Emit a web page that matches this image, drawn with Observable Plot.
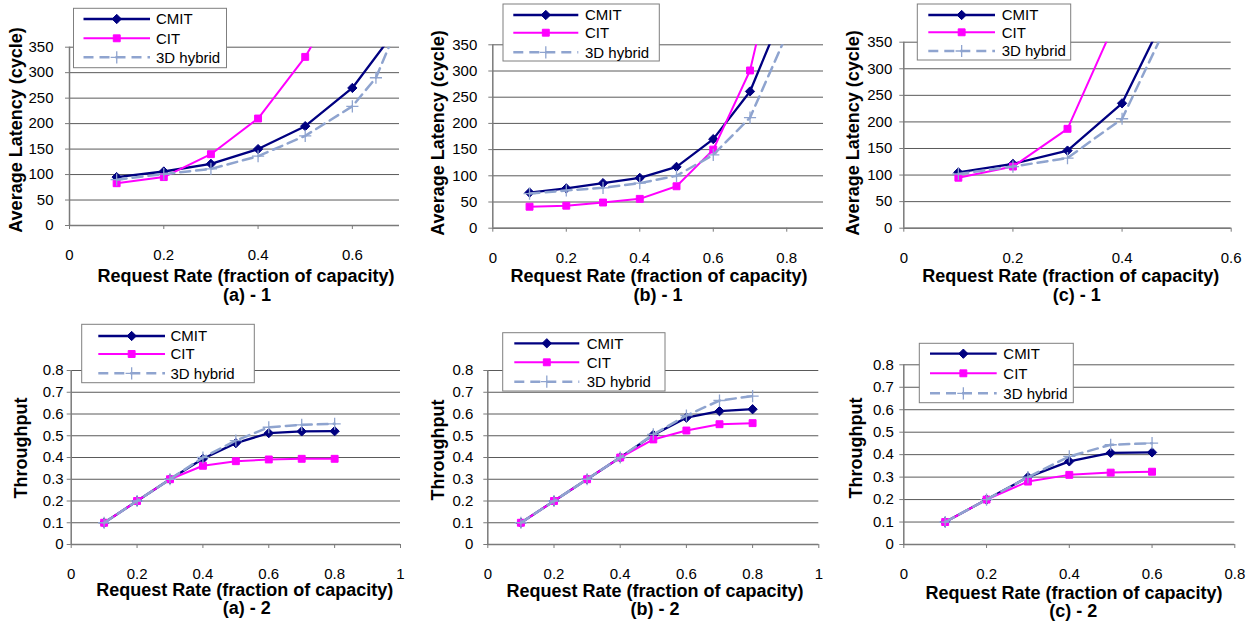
<!DOCTYPE html>
<html><head><meta charset="utf-8">
<script src="https://cdn.jsdelivr.net/npm/d3@7"></script>
<script src="https://cdn.jsdelivr.net/npm/@observablehq/plot@0.6"></script>
<style>
html,body{margin:0;padding:0;background:#fff;}
#chart{position:relative;width:1260px;height:627px;overflow:hidden;font-family:"Liberation Sans",Arial,sans-serif;background:#fff;}
.lbl{position:absolute;font-weight:bold;font-size:18px;line-height:18px;white-space:nowrap;color:#000;}
</style></head><body><div id="chart"></div>
<script>
// ---------- data ----------
const seriesNames = ["CMIT", "CIT", "3D hybrid"];
const latencyTicks = [0, 50, 100, 150, 200, 250, 300, 350];
const throughputTicks = [0, 0.1, 0.2, 0.3, 0.4, 0.5, 0.6, 0.7, 0.8];
const xTicksA1 = [0, 0.2, 0.4, 0.6];
const xTicksB1 = [0, 0.2, 0.4, 0.6, 0.8];
const xTicksC1 = [0, 0.2, 0.4, 0.6];
const xTicksA2 = [0, 0.2, 0.4, 0.6, 0.8, 1];
const xTicksB2 = [0, 0.2, 0.4, 0.6, 0.8, 1];
const xTicksC2 = [0, 0.2, 0.4, 0.6, 0.8];
const rates = [0.1, 0.2, 0.3, 0.4, 0.5, 0.6, 0.7, 0.8];
const ratesA1Hybrid = [0.1, 0.2, 0.3, 0.4, 0.5, 0.6, 0.65, 0.7];

// (a)-1 latency
const a1CMIT = [95, 106, 121, 150, 195, 270, 393];
const a1CIT = [83, 95, 140, 210, 331, 490];
const a1Hybrid = [90, 101, 111, 136, 176, 234, 290, 400];
// (b)-1 latency
const b1CMIT = [68, 76, 86, 96, 117, 170, 261, 430];
const b1CIT = [41, 43, 49, 56, 80, 150, 301, 600];
const b1Hybrid = [66, 72, 77, 86, 100, 140, 211, 370];
// (c)-1 latency
const c1CMIT = [105, 121, 146, 235, 444];
const c1CIT = [95, 116, 187, 417];
const c1Hybrid = [102, 116, 132, 206, 421];
// (a)-2 throughput
const a2CMIT = [0.1, 0.2, 0.3, 0.394, 0.466, 0.512, 0.52, 0.521];
const a2CIT = [0.1, 0.2, 0.3, 0.362, 0.383, 0.391, 0.394, 0.394];
const a2Hybrid = [0.1, 0.2, 0.3, 0.40, 0.478, 0.539, 0.55, 0.555];
// (b)-2 throughput
const b2CMIT = [0.1, 0.2, 0.3, 0.4, 0.504, 0.583, 0.613, 0.622];
const b2CIT = [0.1, 0.2, 0.3, 0.4, 0.483, 0.524, 0.553, 0.558];
const b2Hybrid = [0.1, 0.2, 0.3, 0.4, 0.506, 0.593, 0.662, 0.682];
// (c)-2 throughput
const c2CMIT = [0.1, 0.2, 0.3, 0.37, 0.408, 0.41];
const c2CIT = [0.1, 0.2, 0.28, 0.31, 0.32, 0.324];
const c2Hybrid = [0.1, 0.2, 0.3, 0.392, 0.444, 0.451];

const xTitle = "Request Rate (fraction of capacity)";
const yTitleTop = "Average Latency (cycle)";
const yTitleBottom = "Throughput";
const captions = ["(a) - 1", "(b) - 1", "(c) - 1", "(a) - 2", "(b) - 2", "(c) - 2"];

// ---------- helpers ----------
function rows(xs, ys, name) { return ys.map((y, i) => ({x: xs[i], y, series: name})); }

const seriesStyle = {
  "CMIT": {stroke: "#000080", strokeWidth: 2.3, dash: null, symbol: "diamond2", r: 4.2, fill: "#000080", sw: 1, d3sym: d3.symbolDiamond2},
  "CIT": {stroke: "#ff00ff", strokeWidth: 2, dash: null, symbol: "square", r: 3.9, fill: "#ff00ff", sw: 1, d3sym: d3.symbolSquare},
  "3D hybrid": {stroke: "#8fa4cf", strokeWidth: 2.5, dash: "10,6", symbol: "plus", r: 4, fill: "none", sw: 1.3, d3sym: d3.symbolPlus}
};

const panels = [
  {left: 0, top: 0, w: 420, h: 310, mL: 69, mR: 21, mT: 46.7, mB: 85, xDom: [0, 0.7], xTicks: xTicksA1, yDom: [0, 350], yTicks: latencyTicks, yPad: 12,
   data: [rows(rates, a1CMIT, "CMIT"), rows(rates, a1CIT, "CIT"), rows(ratesA1Hybrid, a1Hybrid, "3D hybrid")],
   yTitle: yTitleTop, yT: [16, 130], xT: [246, 276], cap: [247, 295],
   legend: {box: [73.5, 8.3, 153, 59.4], rows: [19, 38.3, 57.3], line: [83.5, 150], tx: 156}},
  {left: 420, top: 0, w: 420, h: 310, mL: 72.3, mR: 17, mT: 44.3, mB: 82.3, xDom: [0, 0.9], xTicks: xTicksB1, yDom: [0, 350], yTicks: latencyTicks, yPad: 11.5,
   data: [rows(rates, b1CMIT, "CMIT"), rows(rates, b1CIT, "CIT"), rows(rates, b1Hybrid, "3D hybrid")],
   yTitle: yTitleTop, yT: [438, 133], xT: [659, 276], cap: [658, 295],
   legend: {box: [503, 4, 156.3, 57], rows: [15, 32.7, 52.3], line: [513.3, 578.3], tx: 585}},
  {left: 840, top: 0, w: 420, h: 310, mL: 63.3, mR: 29.3, mT: 41.7, mB: 82.3, xDom: [0, 0.6], xTicks: xTicksC1, yDom: [0, 350], yTicks: latencyTicks, yPad: 7.5,
   data: [rows(rates, c1CMIT, "CMIT"), rows(rates, c1CIT, "CIT"), rows(rates, c1Hybrid, "3D hybrid")],
   yTitle: yTitleTop, yT: [852.5, 133], xT: [1070.8, 276], cap: [1076.7, 295],
   legend: {box: [917.3, 4, 153.4, 56], rows: [15, 32.3, 51], line: [928.3, 995], tx: 1001.7}},
  {left: 0, top: 310, w: 420, h: 317, mL: 70.7, mR: 20, mT: 60, mB: 83, xDom: [0, 1], xTicks: xTicksA2, yDom: [0, 0.8], yTicks: throughputTicks, yPad: 3.5,
   data: [rows(rates, a2CMIT, "CMIT"), rows(rates, a2CIT, "CIT"), rows(rates, a2Hybrid, "3D hybrid")],
   yTitle: yTitleBottom, yT: [20.5, 448], xT: [244.7, 590], cap: [246.7, 608.3],
   legend: {box: [81.7, 324.3, 172.6, 58.4], rows: [336, 354, 373.3], line: [98.3, 165], tx: 170.5}},
  {left: 420, top: 310, w: 420, h: 317, mL: 67.3, mR: 21.7, mT: 60, mB: 83, xDom: [0, 1], xTicks: xTicksB2, yDom: [0, 0.8], yTicks: throughputTicks, yPad: 10.5,
   data: [rows(rates, b2CMIT, "CMIT"), rows(rates, b2CIT, "CIT"), rows(rates, b2Hybrid, "3D hybrid")],
   yTitle: yTitleBottom, yT: [438.3, 450], xT: [655, 591], cap: [655, 609.3],
   legend: {box: [502.7, 332.7, 162.3, 58.3], rows: [343.3, 362.3, 381.7], line: [514.3, 579.3], tx: 586.7}},
  {left: 840, top: 310, w: 420, h: 317, mL: 63.3, mR: 25.7, mT: 54.3, mB: 83, xDom: [0, 0.8], xTicks: xTicksC2, yDom: [0, 0.8], yTicks: throughputTicks, yPad: 6,
   data: [rows(rates, c2CMIT, "CMIT"), rows(rates, c2CIT, "CIT"), rows(rates, c2Hybrid, "3D hybrid")],
   yTitle: yTitleBottom, yT: [856, 448], xT: [1074, 592.7], cap: [1073.3, 611],
   legend: {box: [919.3, 343.3, 154, 59.4], rows: [353.7, 373.3, 393.3], line: [930, 996.7], tx: 1003.3}}
];

const chart = document.getElementById("chart");
const fontFamily = '"Liberation Sans", Arial, sans-serif';

function addLabel(text, cx, cy, rotate) {
  const d = document.createElement("div");
  d.className = "lbl";
  d.textContent = text;
  d.style.left = cx + "px";
  d.style.top = cy + "px";
  d.style.transform = "translate(-50%,-50%)" + (rotate ? " rotate(-90deg)" : "");
  chart.appendChild(d);
}

panels.forEach((p, i) => {
  const marks = [
    Plot.gridY(p.yTicks, {stroke: "#5a5a5a", strokeOpacity: 1, strokeWidth: 1}),
    Plot.ruleX([0], {stroke: "#7a7a7a", strokeWidth: 1.5}),
    Plot.ruleY([0], {stroke: "#7a7a7a", strokeWidth: 1.5}),
    Plot.axisY(p.yTicks, {tickSize: 4, tickPadding: p.yPad, tickFormat: d => String(d), label: null, fontSize: 15, stroke: "#7a7a7a", fill: "#000"}),
    Plot.axisX(p.xTicks, {tickSize: 4, tickPadding: 20, tickFormat: d => String(d), label: null, fontSize: 15, stroke: "#7a7a7a", fill: "#000"})
  ];
  p.data.forEach((ser, k) => {
    const s = seriesStyle[seriesNames[k]];
    marks.push(Plot.line(ser, {x: "x", y: "y", stroke: s.stroke, strokeWidth: s.strokeWidth, strokeDasharray: s.dash, clip: true}));
    marks.push(Plot.dot(ser, {x: "x", y: "y", symbol: s.symbol, r: s.r, fill: s.fill, stroke: s.stroke, strokeWidth: s.sw, clip: true}));
  });
  const svg = Plot.plot({
    width: p.w, height: p.h,
    marginLeft: p.mL, marginRight: p.mR, marginTop: p.mT, marginBottom: p.mB,
    x: {domain: p.xDom, label: null},
    y: {domain: p.yDom, label: null},
    style: {background: "transparent", fontFamily, fontSize: "15px", color: "#000", overflow: "visible"},
    marks
  });
  svg.style.position = "absolute";
  svg.style.left = p.left + "px";
  svg.style.top = p.top + "px";
  chart.appendChild(svg);
  addLabel(p.yTitle, p.yT[0], p.yT[1], true);
  addLabel(xTitle, p.xT[0], p.xT[1], false);
  addLabel(captions[i], p.cap[0], p.cap[1], false);
});

// legends overlay
const overlay = d3.select(chart).append("svg")
  .attr("width", 1260).attr("height", 627)
  .style("position", "absolute").style("left", "0px").style("top", "0px")
  .style("font-family", fontFamily);

panels.forEach(p => {
  const L = p.legend;
  overlay.append("rect").attr("x", L.box[0]).attr("y", L.box[1]).attr("width", L.box[2]).attr("height", L.box[3])
    .attr("fill", "#fff").attr("stroke", "#7f7f7f").attr("stroke-width", 1);
  seriesNames.forEach((name, k) => {
    const s = seriesStyle[name];
    const y = L.rows[k];
    overlay.append("line").attr("x1", L.line[0]).attr("x2", L.line[1]).attr("y1", y).attr("y2", y)
      .attr("stroke", s.stroke).attr("stroke-width", s.strokeWidth).attr("stroke-dasharray", s.dash);
    const cx = (L.line[0] + L.line[1]) / 2;
    overlay.append("path").attr("d", d3.symbol(s.d3sym, Math.PI * s.r * s.r)())
      .attr("transform", `translate(${cx},${y})`)
      .attr("fill", s.fill).attr("stroke", s.stroke).attr("stroke-width", s.sw);
    overlay.append("text").attr("x", L.tx).attr("y", y).attr("dy", "0.35em")
      .attr("font-size", 15).attr("fill", "#000").text(name);
  });
});
</script></body></html>
